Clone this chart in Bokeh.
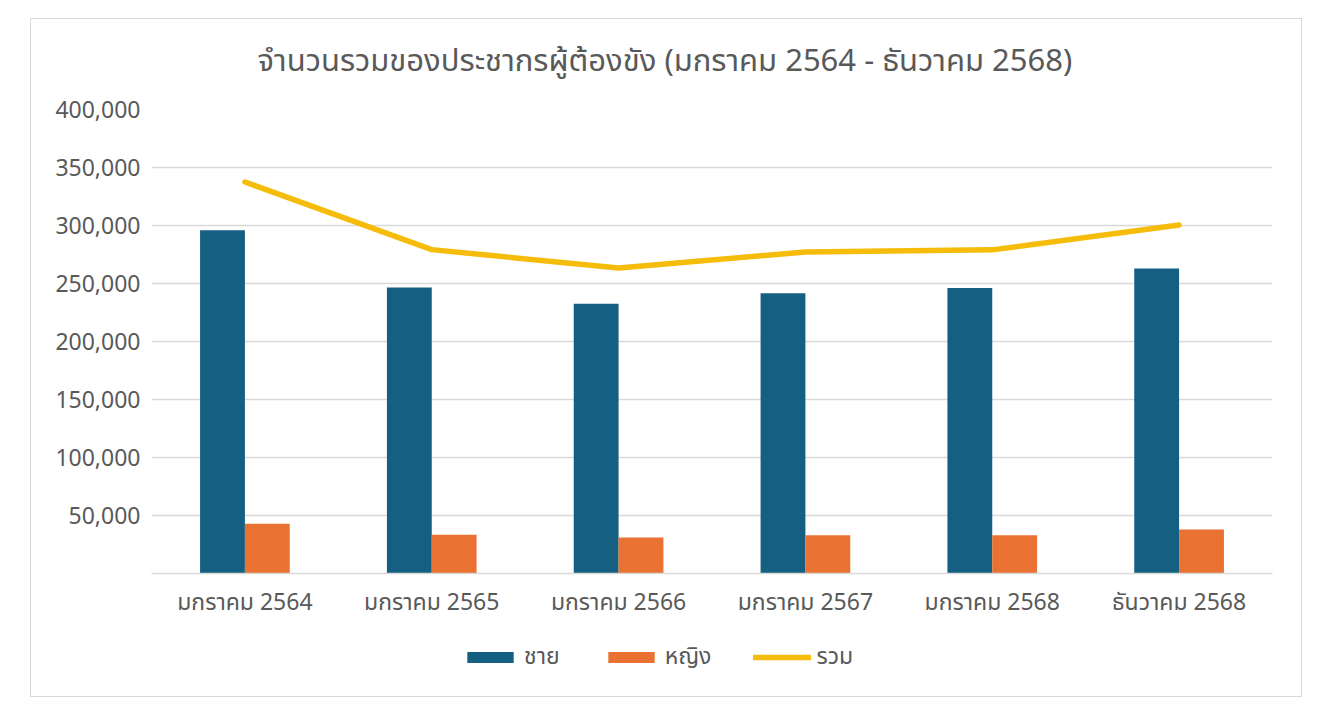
from bokeh.plotting import figure
from bokeh.models import (FactorRange, FixedTicker, NumeralTickFormatter, Legend,
                          LegendItem, ColumnDataSource, Range1d, Label)
from bokeh.layouts import column
from bokeh.transform import dodge
from bokeh.embed import file_html
from bokeh.resources import INLINE

categories = ["มกราคม 2564", "มกราคม 2565", "มกราคม 2566", "มกราคม 2567", "มกราคม 2568", "ธันวาคม 2568"]
male = [296000, 246500, 232500, 241600, 246200, 263000]
female = [42800, 33300, 31000, 33000, 33000, 37900]
total = [337500, 279200, 263300, 277200, 279000, 300500]
y_ticks = [50000, 100000, 150000, 200000, 250000, 300000, 350000, 400000]
series_names = ["ชาย", "หญิง", "รวม"]

title_text = "จำนวนรวมของประชากรผู้ต้องขัง (มกราคม 2564 - ธันวาคม 2568)"
FONT = "Noto Sans Thai, Noto Sans Thai UI, Noto Sans"
TXT = "#595959"
BLUE = "#156082"
ORANGE = "#E97132"
YELLOW = "#F6BC0A"
W = 1270


def strip(height):
    f = figure(width=W, height=height, output_backend="svg", toolbar_location=None,
               min_border=0, x_range=Range1d(0, 1), y_range=Range1d(0, 1),
               x_axis_location=None, y_axis_location=None)
    f.grid.visible = False
    f.outline_line_color = None
    return f


# title strip (its frame is aligned with the chart frame by the column layout)
tf = strip(75)
tf.add_layout(Label(x=0.458, y=0.44, text=title_text, text_align="center",
                    text_baseline="middle", text_font=FONT, text_font_size="31px",
                    text_color=TXT))

src = ColumnDataSource(dict(cat=categories, male=male, female=female, total=total))

p = figure(x_range=FactorRange(*categories), y_range=Range1d(0, 400000),
           width=W, height=535, output_backend="svg", toolbar_location=None,
           min_border_left=120, min_border_right=29, min_border_top=15, min_border_bottom=56)

p.vbar(x=dodge("cat", -0.12, range=p.x_range), top="male", width=0.24, source=src,
       fill_color=BLUE, line_color=None)
p.vbar(x=dodge("cat", 0.12, range=p.x_range), top="female", width=0.24, source=src,
       fill_color=ORANGE, line_color=None)
p.line(x="cat", y="total", source=src, line_color=YELLOW, line_width=5.5,
       line_cap="round", line_join="round")

p.yaxis.ticker = FixedTicker(ticks=y_ticks)
p.yaxis.formatter = NumeralTickFormatter(format="0,0")
p.yaxis.axis_line_color = None
p.yaxis.major_tick_line_color = None
p.yaxis.minor_tick_line_color = None
p.yaxis.major_label_text_font = FONT
p.yaxis.major_label_text_font_size = "23px"
p.yaxis.major_label_text_color = TXT
p.yaxis.major_label_standoff = 5

p.xaxis.axis_line_color = "#d9d9d9"
p.xaxis.axis_line_width = 1.5
p.xaxis.major_tick_line_color = None
p.xaxis.minor_tick_line_color = None
p.xaxis.major_label_text_font = FONT
p.xaxis.major_label_text_font_size = "23px"
p.xaxis.major_label_text_color = TXT
p.xaxis.major_label_standoff = 6

p.xgrid.grid_line_color = None
p.ygrid.grid_line_color = "#d9d9d9"
p.ygrid.grid_line_width = 1.5
p.outline_line_color = None
p.x_range.range_padding = 0
p.x_range.group_padding = 0

# legend strip (legend renderers hold a point outside the visible strip)
lg = strip(67)
off_bar = ColumnDataSource(dict(x=[-5], top=[-5], bottom=[-6]))
off_line = ColumnDataSource(dict(x=[-5, -4], y=[-5, -5]))
r_m = lg.vbar(x="x", top="top", bottom="bottom", width=0.1, source=off_bar,
              fill_color=BLUE, line_color=None)
r_f = lg.vbar(x="x", top="top", bottom="bottom", width=0.1, source=off_bar,
              fill_color=ORANGE, line_color=None)
r_t = lg.line(x="x", y="y", source=off_line, line_color=YELLOW, line_width=5.5, line_cap="round")

legend = Legend(items=[LegendItem(label=series_names[0], renderers=[r_m]),
                       LegendItem(label=series_names[1], renderers=[r_f]),
                       LegendItem(label=series_names[2], renderers=[r_t])],
                orientation="horizontal", location=(310, 22),
                glyph_width=58, glyph_height=14, spacing=42, label_standoff=5,
                label_text_font=FONT, label_text_font_size="23px", label_text_color=TXT,
                border_line_color=None, background_fill_alpha=0, margin=0, padding=0)
lg.add_layout(legend, "center")

layout = column(tf, p, lg, margin=(18, 0, 0, 30), spacing=0,
                styles={"border": "1px solid #d9d9d9"})

open("out.html", "w").write(file_html(layout, INLINE))
